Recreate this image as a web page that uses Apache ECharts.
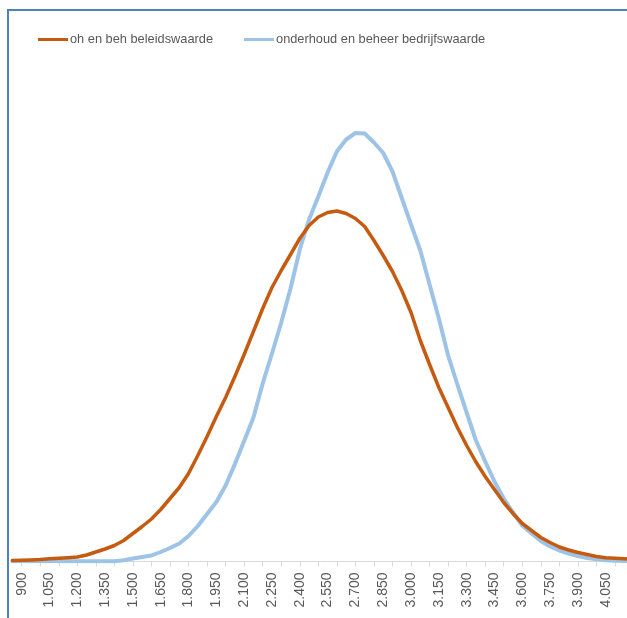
<!DOCTYPE html>
<html>
<head>
<meta charset="utf-8">
<script src="https://cdn.jsdelivr.net/npm/echarts@6/dist/echarts.min.js"></script>
<style>
html, body { margin: 0; padding: 0; background: #fff; overflow: hidden; }
#main { width: 660px; height: 618px; }
</style>
</head>
<body>
<div id="main"></div>
<script>
// waarden per 50 (categorie-as), vanaf 850
var waarden = [];
for (var v = 850; v <= 4250; v += 50) waarden.push(String(v));

var beleidswaarde = [
  1, 1.2, 1.5, 2, 2.8, 3.3, 3.8, 4.5, 6.5, 9.5,
  12.5, 16, 21, 28, 35, 42.5, 52, 63, 74, 88,
  106, 125, 145, 164, 185, 207, 230, 253, 274, 291,
  307, 323, 336, 344.5, 349, 350.5, 348, 343, 335, 321,
  306, 290, 271, 249, 221, 197, 174, 154, 134, 116,
  99.5, 85, 72, 59, 48, 38, 31, 24, 19, 14.5,
  11.5, 9, 7, 5, 3.8, 3.3, 2.8, 2.3, 2
];

var bedrijfswaarde = [
  0.2, 0.2, 0.2, 0.2, 0.2, 0.2, 0.2, 0.2, 0.2, 0.2,
  0.2, 0.2, 1.3, 3, 4.5, 6, 9.5, 13.5, 18, 25.5,
  35.5, 47.5, 59.5, 76, 97.5, 120.5, 144, 178, 208, 239,
  273, 312, 342, 365, 389, 410, 422, 428.5, 428, 419,
  408.5, 390, 363.5, 337, 311, 277, 243, 206, 177, 149,
  121, 100, 80, 63, 49, 36, 28, 20.5, 15, 11,
  8, 5.5, 3.5, 2.2, 1.3, 0.8, 0.5, 0.3, 0.2
];

function fmt(v) {
  v = Number(v);
  if (v < 1000) return String(v);
  var r = String(v % 1000);
  while (r.length < 3) r = '0' + r;
  return Math.floor(v / 1000) + '.' + r;
}

var myChart = echarts.init(document.getElementById('main'));
var option = {
  animation: false,
  textStyle: { fontFamily: 'Liberation Sans, Arial, sans-serif' },
  graphic: [{
    type: 'rect',
    shape: { x: 8, y: 10, width: 800, height: 800 },
    style: { fill: 'none', stroke: '#4F81BD', lineWidth: 2 },
    silent: true
  }],
  legend: {
    left: 33,
    top: 28,
    itemWidth: 30,
    itemHeight: 3,
    itemGap: 31,
    icon: 'rect',
    textStyle: { color: '#595959', fontSize: 12.8, padding: [0, 0, 0, -3] },
    data: ['oh en beh beleidswaarde', 'onderhoud en beheer bedrijfswaarde']
  },
  grid: { left: 12.4, right: 17.2, top: 111.5, bottom: 56.5, containLabel: false },
  xAxis: {
    type: 'category',
    data: waarden,
    boundaryGap: false,
    axisLine: { lineStyle: { color: '#D9D9D9', width: 1 } },
    axisTick: {
      length: 5,
      lineStyle: { color: '#D9D9D9' },
      interval: function (i, v) { return (Number(v) - 900) % 100 === 0; }
    },
    axisLabel: {
      rotate: 90,
      margin: 11,
      color: '#595959',
      fontSize: 14,
      interval: function (i, v) { return Number(v) >= 900 && (Number(v) - 900) % 150 === 0; },
      formatter: fmt
    },
    splitLine: { show: false }
  },
  yAxis: {
    type: 'value',
    min: 0,
    max: 450,
    show: false,
    splitLine: { show: false }
  },
  series: [
    {
      name: 'oh en beh beleidswaarde',
      type: 'line',
      data: beleidswaarde,
      showSymbol: false,
      symbol: 'none',
      color: '#C55A11',
      lineStyle: { width: 3.5, color: '#C55A11', cap: 'round', join: 'round' },
      z: 3
    },
    {
      name: 'onderhoud en beheer bedrijfswaarde',
      type: 'line',
      data: bedrijfswaarde,
      showSymbol: false,
      symbol: 'none',
      color: '#9DC3E6',
      lineStyle: { width: 4, color: '#9DC3E6', cap: 'round', join: 'round' },
      z: 2
    }
  ]
};
myChart.setOption(option);
</script>
</body>
</html>
